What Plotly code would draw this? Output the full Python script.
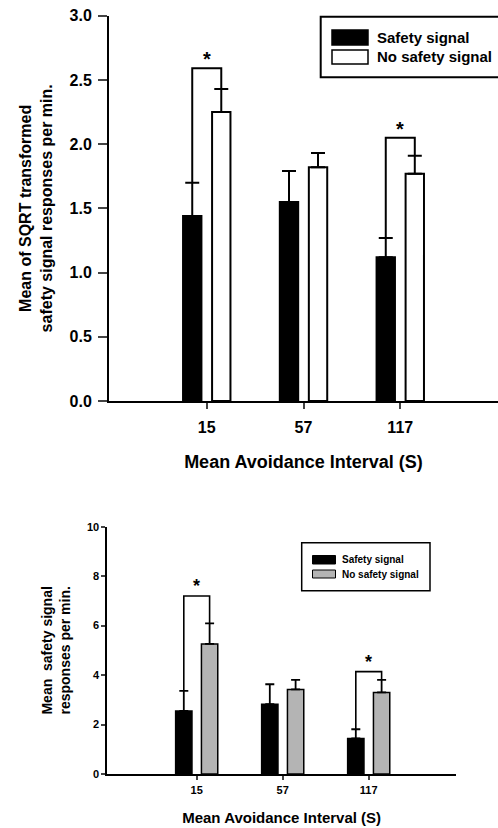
import plotly.graph_objects as go

# ---------------- data ----------------
categories = ["15", "57", "117"]
cat_pos = [1, 2, 3]

# top panel: SQRT transformed responses
top_safety = [1.44, 1.55, 1.12]
top_safety_err = [0.26, 0.24, 0.15]
top_nosafety = [2.25, 1.82, 1.77]
top_nosafety_err = [0.18, 0.11, 0.14]
top_sig_groups = [0, 2]          # groups with significance brackets
top_sig_height = [2.59, 2.05]

# bottom panel: raw responses
bot_safety = [2.55, 2.82, 1.44]
bot_safety_err = [0.81, 0.81, 0.37]
bot_nosafety = [5.26, 3.42, 3.30]
bot_nosafety_err = [0.83, 0.39, 0.51]
bot_sig_groups = [0, 2]
bot_sig_height = [7.2, 4.14]

series_names = ["Safety signal", "No safety signal"]

W, H = 498, 828
FONT = "Liberation Sans, Arial, sans-serif"
GREY = "#b4b4b4"
OFF = 0.15  # bar centre offset within group (bargap/bargroupgap below)


def px(x):
    return x / W


def py(y):
    return 1 - y / H


fig = go.Figure()

# top panel bars
fig.add_trace(go.Bar(x=cat_pos, y=top_safety, name=series_names[0],
                     marker=dict(color="black", line=dict(color="black", width=2)),
                     error_y=dict(type="data", array=top_safety_err, arrayminus=[0] * 3,
                                  symmetric=False, color="black", thickness=2, width=7),
                     xaxis="x", yaxis="y", showlegend=False))
fig.add_trace(go.Bar(x=cat_pos, y=top_nosafety, name=series_names[1],
                     marker=dict(color="white", line=dict(color="black", width=2)),
                     error_y=dict(type="data", array=top_nosafety_err, arrayminus=[0] * 3,
                                  symmetric=False, color="black", thickness=2, width=7),
                     xaxis="x", yaxis="y", showlegend=False))

# bottom panel bars
fig.add_trace(go.Bar(x=cat_pos, y=bot_safety, name=series_names[0],
                     marker=dict(color="black", line=dict(color="black", width=1.5)),
                     error_y=dict(type="data", array=bot_safety_err, arrayminus=[0] * 3,
                                  symmetric=False, color="black", thickness=1.8, width=4.5),
                     xaxis="x2", yaxis="y2", showlegend=False))
fig.add_trace(go.Bar(x=cat_pos, y=bot_nosafety, name=series_names[1],
                     marker=dict(color=GREY, line=dict(color="black", width=1.5)),
                     error_y=dict(type="data", array=bot_nosafety_err, arrayminus=[0] * 3,
                                  symmetric=False, color="black", thickness=1.8, width=4.5),
                     xaxis="x2", yaxis="y2", showlegend=False))

shapes = []
annotations = []


def add_brackets(groups, heights, s_vals, s_err, n_vals, n_err, xref, yref, lw, star_size, star_shift):
    for g, h in zip(groups, heights):
        xc = cat_pos[g]
        xl, xr = xc - OFF, xc + OFF
        y_left = s_vals[g] + s_err[g]
        y_right = n_vals[g] + n_err[g]
        shapes.append(dict(type="path", xref=xref, yref=yref,
                           path=f"M {xl},{y_left} L {xl},{h} L {xr},{h} L {xr},{y_right}",
                           line=dict(color="black", width=lw)))
        annotations.append(dict(x=xc, y=h, xref=xref, yref=yref, text="*", showarrow=False,
                                yanchor="bottom", yshift=star_shift,
                                font=dict(family=FONT, size=star_size, color="black", weight="bold")))


add_brackets(top_sig_groups, top_sig_height, top_safety, top_safety_err,
             top_nosafety, top_nosafety_err, "x", "y", 2, 20, -4)
add_brackets(bot_sig_groups, bot_sig_height, bot_safety, bot_safety_err,
             bot_nosafety, bot_nosafety_err, "x2", "y2", 1.6, 18, -2)

# ---- legends (drawn) ----
# top
shapes.append(dict(type="rect", xref="paper", yref="paper", x0=px(320.7), x1=px(500),
                    y0=py(77.3), y1=py(16.7), line=dict(color="black", width=2), fillcolor="white"))
shapes.append(dict(type="rect", xref="paper", yref="paper", x0=px(332), x1=px(368),
                    y0=py(45), y1=py(30), line=dict(color="black", width=1.5), fillcolor="black"))
shapes.append(dict(type="rect", xref="paper", yref="paper", x0=px(332), x1=px(368),
                    y0=py(64), y1=py(50), line=dict(color="black", width=1.5), fillcolor="white"))
for name, yy in zip(series_names, [37.5, 57]):
    annotations.append(dict(x=px(375), y=py(yy), xref="paper", yref="paper", text=name,
                            showarrow=False, xanchor="left", yanchor="middle",
                            font=dict(family=FONT, size=15, color="black", weight="bold")))
# bottom
shapes.append(dict(type="rect", xref="paper", yref="paper", x0=px(301.7), x1=px(430),
                    y0=py(590.7), y1=py(542.7), line=dict(color="black", width=1.5), fillcolor="white"))
shapes.append(dict(type="rect", xref="paper", yref="paper", x0=px(312.5), x1=px(335.5),
                    y0=py(564), y1=py(555.5), line=dict(color="black", width=1), fillcolor="black"))
shapes.append(dict(type="rect", xref="paper", yref="paper", x0=px(312.5), x1=px(335.5),
                    y0=py(578), y1=py(570), line=dict(color="black", width=1), fillcolor=GREY))
for name, yy in zip(series_names, [559.5, 574]):
    annotations.append(dict(x=px(340), y=py(yy), xref="paper", yref="paper", text=name,
                            showarrow=False, xanchor="left", yanchor="middle",
                            font=dict(family=FONT, size=10, color="black", weight="bold")))

tick_font_top = dict(family=FONT, size=16, color="black", weight="bold")
tick_font_bot = dict(family=FONT, size=11, color="black", weight="bold")

fig.update_layout(
    width=W, height=H,
    margin=dict(l=0, r=0, t=0, b=0, autoexpand=False),
    paper_bgcolor="white", plot_bgcolor="white",
    barmode="group", bargap=0.4, bargroupgap=0.367,
    shapes=shapes, annotations=annotations,
    font=dict(family=FONT, color="black"),
    xaxis=dict(domain=[px(109), 1.0], range=[-0.0103, 4.01], anchor="y",
               tickvals=cat_pos, ticktext=categories, ticks="outside", ticklen=6, tickwidth=2,
               showline=True, linecolor="black", linewidth=2, showgrid=False, zeroline=False,
               tickfont=tick_font_top, ticklabelstandoff=5,
               title=dict(text="Mean Avoidance Interval (S)", standoff=20,
                          font=dict(family=FONT, size=18, color="black", weight="bold"))),
    yaxis=dict(domain=[py(401), py(15.7)], range=[0, 3], anchor="x",
               tickvals=[0, 0.5, 1.0, 1.5, 2.0, 2.5, 3.0], tickformat=".1f",
               ticks="outside", ticklen=9, tickwidth=2,
               showline=True, linecolor="black", linewidth=2, showgrid=False, zeroline=False,
               tickfont=tick_font_top, ticklabelstandoff=3,
               title=dict(text="Mean of SQRT transformed<br>safety signal responses per min.",
                          standoff=13,
                          font=dict(family=FONT, size=16, color="black", weight="bold"))),
    xaxis2=dict(domain=[px(107.3), px(456)], range=[-0.0395, 4.015], anchor="y2",
                tickvals=cat_pos, ticktext=categories, ticks="outside", ticklen=4, tickwidth=1.5,
                showline=True, linecolor="black", linewidth=1.8, showgrid=False, zeroline=False,
                tickfont=tick_font_bot, ticklabelstandoff=1,
                title=dict(text="Mean Avoidance Interval (S)", standoff=17,
                           font=dict(family=FONT, size=15, color="black", weight="bold"))),
    yaxis2=dict(domain=[py(774), py(526.7)], range=[0, 10], anchor="x2",
                tickvals=[0, 2, 4, 6, 8, 10], ticks="outside", ticklen=4, tickwidth=1.5,
                showline=True, linecolor="black", linewidth=1.8, showgrid=False, zeroline=False,
                tickfont=tick_font_bot,
                title=dict(text="Mean  safety signal<br>responses per min.", standoff=13,
                           font=dict(family=FONT, size=14, color="black", weight="bold"))),
)

fig.write_html("out.html", config={"displayModeBar": False},
               post_script="document.body.style.margin='0';document.body.style.overflow='hidden';")
